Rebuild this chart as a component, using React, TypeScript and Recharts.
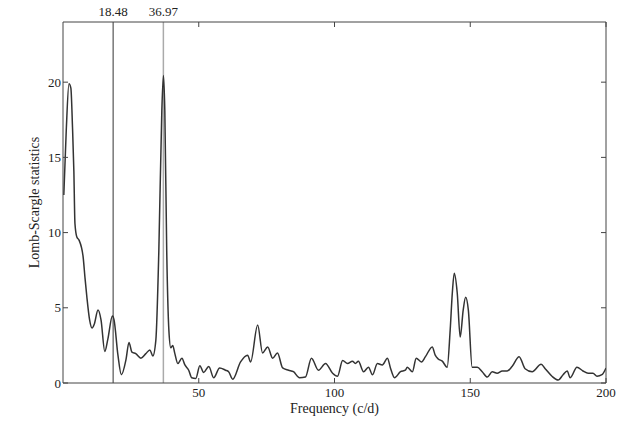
import React from 'react';
import { Line, LineChart, ReferenceLine, XAxis, YAxis, Label } from 'recharts';

const freq = [
  0.3, 1.2, 2.2, 2.9, 3.5, 4.0, 4.4, 5.1, 5.9, 7.4, 8.1, 8.8, 9.8, 10.7, 11.5, 12.9, 14.0, 15.4, 16.5, 18.2,
  18.8, 20.2, 21.5, 23.2, 24.3, 25.4, 26.8, 28.7, 30.5, 32.0, 33.1, 34.2, 35.3, 36.4, 37.0, 37.5, 38.2, 39.0,
  39.7, 40.4, 41.2, 42.3, 43.8, 44.9, 46.3, 47.4, 48.9, 50.4, 51.8, 53.7, 55.5, 57.7, 59.9, 61.0, 62.5, 65.4,
  68.0, 69.1, 71.7, 73.5, 75.4, 77.2, 79.0, 80.9, 83.1, 84.9, 87.1, 89.3, 91.5, 94.1, 96.7, 99.3, 101.1, 103.0,
  104.8, 106.6, 107.7, 108.8, 110.7, 112.5, 114.0, 115.8, 117.6, 119.5, 120.6, 122.1, 124.3, 126.1, 126.8,
  128.7, 130.1, 132.0, 133.5, 136.0, 137.1, 138.2, 139.7, 141.5, 142.6, 143.4, 144.1, 145.2, 146.3, 147.4,
  148.3, 149.3, 150.7, 152.6, 154.4, 156.3, 158.1, 159.9, 161.8, 163.6, 165.4, 168.0, 170.2, 172.8, 176.1,
  177.6, 180.1, 182.4, 184.2, 185.7, 186.8, 189.3, 191.5, 193.4, 195.2, 196.7, 198.5, 200.0,
];

const power = [
  12.5, 16.8, 19.9, 19.6, 17.0, 14.1, 10.6, 9.7, 9.5, 8.4, 7.0, 5.7, 4.2, 3.65, 3.9, 4.85, 4.2, 2.1, 2.9, 4.45,
  4.2, 1.9, 0.55, 1.55, 2.7, 2.05, 1.95, 1.65, 1.95, 2.2, 1.8, 2.85, 8.8, 18.1, 20.45, 18.1, 8.8, 3.5,
  2.35, 2.5, 1.95, 1.3, 1.65, 1.2, 0.85, 0.35, 0.3, 1.15, 0.7, 1.1, 0.35, 1.0, 0.85, 0.75, 0.25, 1.4,
  1.85, 1.4, 3.85, 2.0, 2.4, 1.65, 2.0, 1.0, 0.85, 0.75, 0.35, 0.4, 1.65, 0.85, 1.3, 0.65, 0.45, 1.5,
  1.3, 1.45, 1.3, 1.45, 0.75, 1.05, 0.55, 1.3, 1.2, 1.65, 1.0, 0.35, 0.75, 0.85, 1.05,
  0.75, 1.65, 1.4, 1.75, 2.4, 1.85, 1.6, 1.45, 1.05, 3.5, 6.0, 7.3, 6.0, 3.05, 4.85,
  5.7, 4.85, 1.05, 1.05, 0.75, 0.4, 0.75, 0.65, 0.8, 0.8, 1.1, 1.75, 0.95, 0.75, 1.25,
  0.95, 0.45, 0.2, 0.55, 0.8, 0.35, 1.05, 0.8, 0.65, 0.65, 0.45, 0.55, 1.0,
];

const xTicks = [50, 100, 150, 200];
const yTicks = [0, 5, 10, 15, 20];
const markers = [18.48, 36.97];

const data = freq.map((f, i) => ({ f, p: power[i] }));

const font = '"Liberation Serif", "DejaVu Serif", serif';
const tickStyle = { fontSize: 13, fill: '#222', fontFamily: font };

export default function App() {
  return (
    <div style={{ position: 'absolute', left: 0, top: 0, background: '#fff' }}>
      <LineChart width={640} height={427} data={data} margin={{ top: 0, right: 0, bottom: 0, left: 0 }}>
        <XAxis
          xAxisId="bottom"
          dataKey="f"
          type="number"
          domain={[0, 200]}
          ticks={xTicks}
          height={44}
          stroke="#444"
          tickSize={-5}
          tickMargin={10}
          tick={tickStyle}
          allowDataOverflow
        >
          <Label value="Frequency (c/d)" position="insideBottom" offset={14} style={{ fontSize: 14, fill: '#222', fontFamily: font }} />
        </XAxis>
        <XAxis
          xAxisId="top"
          orientation="top"
          dataKey="f"
          type="number"
          domain={[0, 200]}
          ticks={xTicks}
          height={22}
          stroke="#444"
          tickSize={-5}
          tickFormatter={() => ''}
          allowDataOverflow
        />
        <YAxis
          yAxisId="left"
          type="number"
          domain={[0, 24]}
          ticks={yTicks}
          width={63}
          stroke="#444"
          tickSize={-5}
          tickMargin={7}
          tick={tickStyle}
          allowDataOverflow
        >
          <Label
            value="Lomb-Scargle statistics"
            angle={-90}
            position="insideLeft"
            offset={34}
            style={{ fontSize: 14, fill: '#222', fontFamily: font, textAnchor: 'middle' }}
          />
        </YAxis>
        <YAxis
          yAxisId="right"
          orientation="right"
          type="number"
          domain={[0, 24]}
          ticks={yTicks}
          width={34}
          stroke="#444"
          tickSize={-5}
          tickFormatter={() => ''}
          allowDataOverflow
        />
        {markers.map((m, i) => (
          <ReferenceLine
            key={m}
            x={m}
            xAxisId="bottom"
            yAxisId="left"
            stroke={i === 0 ? '#777' : '#aaa'}
            strokeWidth={1.5}
            label={{ value: m.toFixed(2), position: 'top', offset: 6, style: { fontSize: 13, fill: '#222', fontFamily: font } }}
          />
        ))}
        <Line
          xAxisId="bottom"
          yAxisId="left"
          dataKey="p"
          type="monotone"
          stroke="#333"
          strokeWidth={1.5}
          dot={false}
          isAnimationActive={false}
        />
      </LineChart>
    </div>
  );
}
